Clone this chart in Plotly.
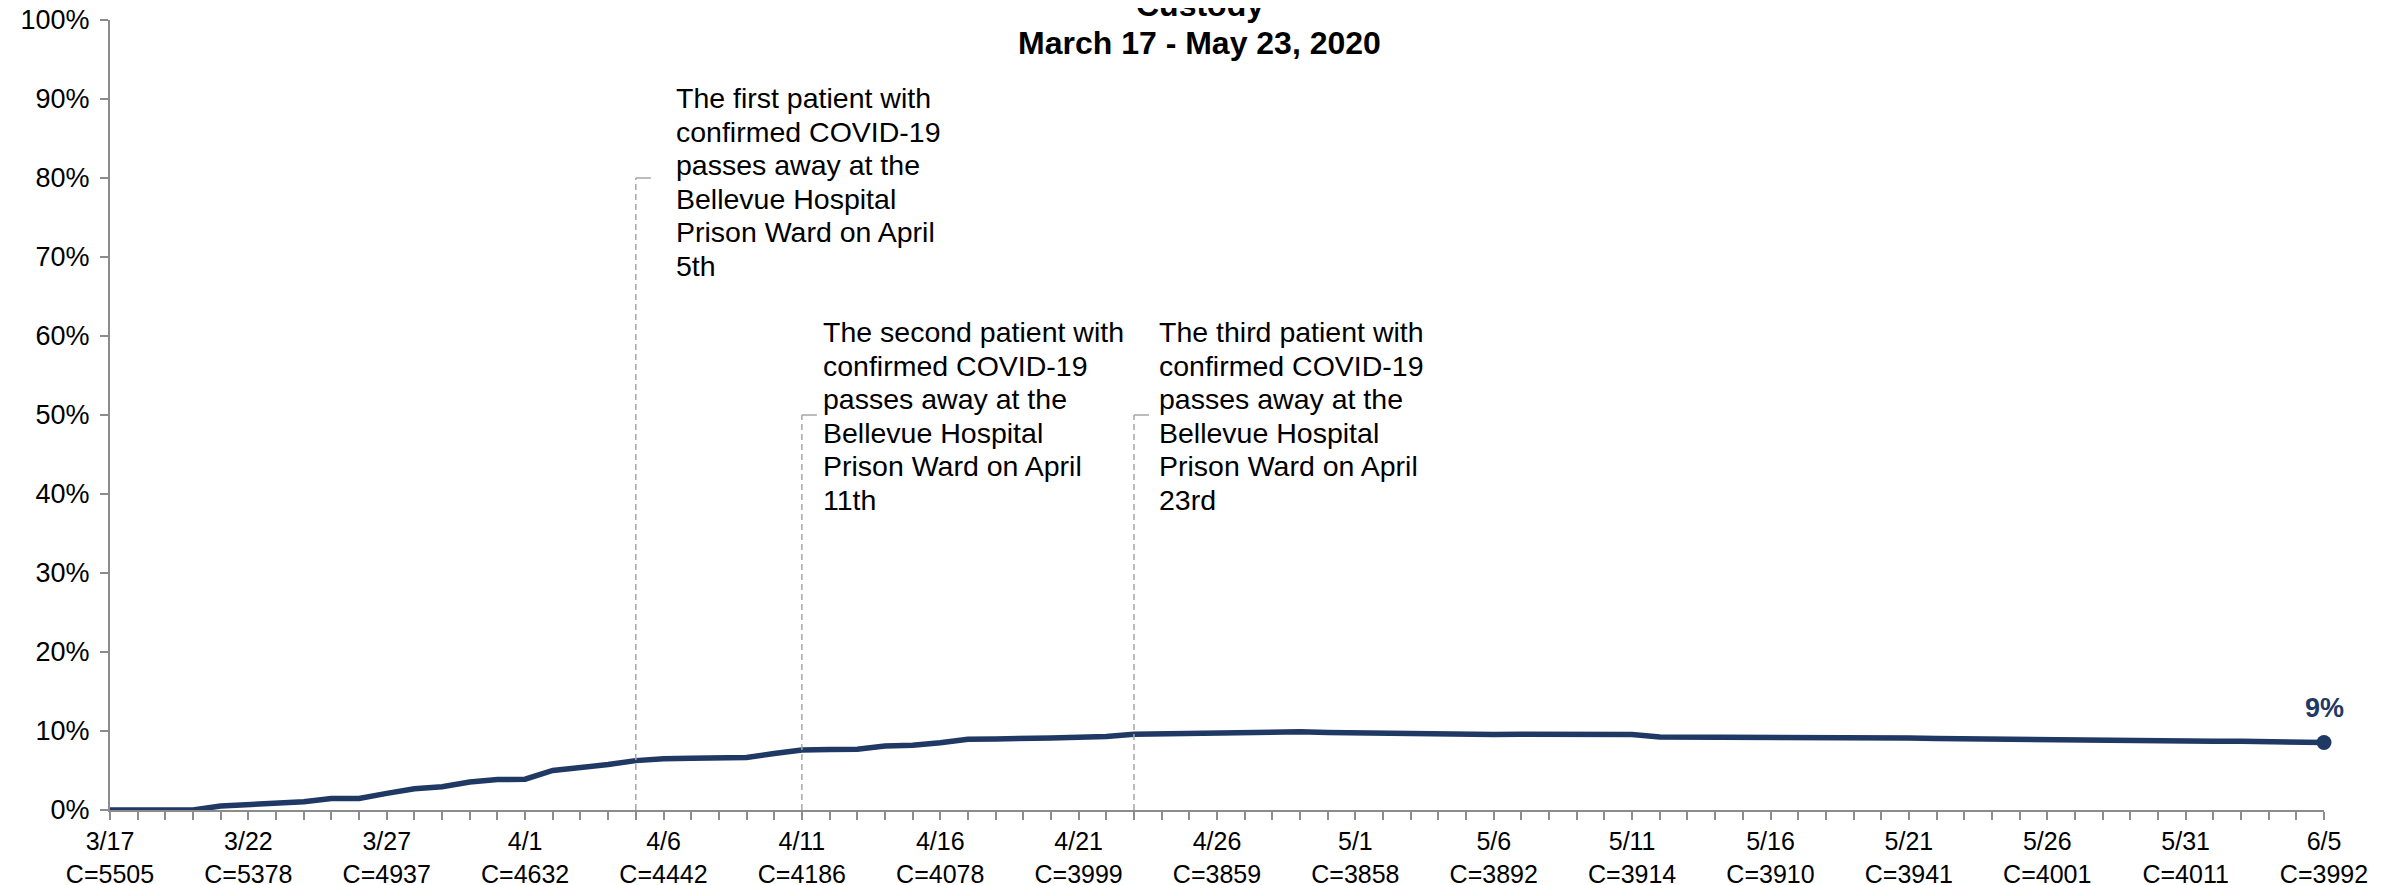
"""COVID-19 in custody: share of population over time, with event markers."""
import pandas as pd
import plotly.graph_objects as go

_NAVY = "#1f3864"
_AXIS = "#8c8c8c"
_GUIDE = "#a6a6a6"
_FONT = "Liberation Sans, Arial, sans-serif"

# ── data ──
dates = [f"{d.month}/{d.day}" for d in pd.date_range("2020-03-17", "2020-06-05")]

share = [
    0.0, 0.0, 0.0, 0.0, 0.005, 0.007, 0.0085, 0.0105, 0.0145, 0.0145,
    0.021, 0.027, 0.0295, 0.0355, 0.0385, 0.039, 0.050, 0.0535, 0.0575, 0.0625,
    0.065, 0.0655, 0.066, 0.0665, 0.0715, 0.076, 0.0765, 0.077, 0.081, 0.082,
    0.085, 0.0895, 0.090, 0.090, 0.091, 0.092, 0.093, 0.096, 0.0965, 0.0985,
    0.0985, 0.0988, 0.099, 0.099, 0.098, 0.0975, 0.096, 0.0955, 0.0955, 0.0955,
    0.0955, 0.096, 0.0955, 0.095, 0.095, 0.0955, 0.0925, 0.0925, 0.0915, 0.0915,
    0.0925, 0.0915, 0.0915, 0.0915, 0.0915, 0.091, 0.0905, 0.090, 0.0895, 0.089,
    0.0885, 0.088, 0.0875, 0.0875, 0.0875, 0.087, 0.087, 0.087, 0.087, 0.0865,
    0.0855,
]

label_dates = ["3/17", "3/22", "3/27", "4/1", "4/6", "4/11", "4/16", "4/21", "4/26",
               "5/1", "5/6", "5/11", "5/16", "5/21", "5/26", "5/31", "6/5"]
census = [5505, 5378, 4937, 4632, 4442, 4186, 4078, 3999, 3859,
          3858, 3892, 3914, 3910, 3941, 4001, 4011, 3992]

event_dates = ["4/5", "4/11", "4/23"]
event_heights = [0.8, 0.5, 0.5]
event_texts = [
    ["The first patient with", "confirmed COVID-19", "passes away at the",
     "Bellevue Hospital", "Prison Ward on April", "5th"],
    ["The second patient with", "confirmed COVID-19", "passes away at the",
     "Bellevue Hospital", "Prison Ward on April", "11th"],
    ["The third patient with", "confirmed COVID-19", "passes away at the",
     "Bellevue Hospital", "Prison Ward on April", "23rd"],
]

# text box placement (layout only)
event_text_top = [0.901, 0.605, 0.605]
event_text_shift = [38, 19, 23]
LINE_STEP = 33.5

census_by_date = dict(zip(label_dates, census))
tick_text = [f"{d}<br>C={census_by_date[d]}" if d in census_by_date else "" for d in dates]

fig = go.Figure()

fig.add_trace(
    go.Scatter(x=dates, y=share, mode="lines", line=dict(color=_NAVY, width=5.5),
               cliponaxis=False, showlegend=False, hoverinfo="skip")
)
fig.add_trace(
    go.Scatter(x=[dates[-1]], y=[share[-1]], mode="markers",
               marker=dict(color=_NAVY, size=15), cliponaxis=False, showlegend=False)
)

# ── event guide lines + texts ──
for date, h, lines, top, shift in zip(event_dates, event_heights, event_texts,
                                      event_text_top, event_text_shift):
    fig.add_shape(type="line", xref="x", yref="y", x0=date, x1=date, y0=0, y1=h,
                  line=dict(color=_GUIDE, width=1.5, dash="6px,4px"))
    fig.add_shape(type="line", xref="x", yref="y", xsizemode="pixel", xanchor=date,
                  x0=0, x1=15, y0=h, y1=h,
                  line=dict(color=_GUIDE, width=1.5))
    for k, txt in enumerate(lines):
        fig.add_annotation(x=date, y=top, xref="x", yref="y", text=txt,
                           showarrow=False, xanchor="left", yanchor="middle",
                           xshift=shift, yshift=-k * LINE_STEP,
                           font=dict(size=28.5, color="black", family=_FONT))

# end value label
fig.add_annotation(x=dates[-1], y=share[-1], text=f"<b>{share[-1]:.0%}</b>",
                   showarrow=False, yanchor="middle", yshift=34,
                   font=dict(size=27, color=_NAVY, family=_FONT))

# title (top line runs off the page)
fig.add_annotation(x=0.4923, y=1.019, xref="paper", yref="paper", text="<b>Custody</b>",
                   showarrow=False, yanchor="middle",
                   font=dict(size=32, color="black", family=_FONT))
fig.add_annotation(x=0.4923, y=0.9709, xref="paper", yref="paper",
                   text="<b>March 17 - May 23, 2020</b>",
                   showarrow=False, yanchor="middle",
                   font=dict(size=32, color="black", family=_FONT))

fig.update_xaxes(
    type="category", range=[0, len(dates) - 1],
    tickmode="array", tickvals=dates, ticktext=tick_text, tickangle=0,
    showline=True, linecolor=_AXIS, linewidth=2,
    ticks="outside", ticklen=8, tickwidth=1.5, tickcolor=_AXIS,
    ticklabelstandoff=0, ticklabeloverflow="allow",
    showgrid=False, zeroline=False,
    tickfont=dict(size=25, color="black", family=_FONT),
)
fig.update_yaxes(
    range=[0, 1], dtick=0.1, tickformat=".0%",
    showline=True, linecolor=_AXIS, linewidth=2,
    ticks="outside", ticklen=8, tickwidth=1.5, tickcolor=_AXIS,
    ticklabelstandoff=5, ticklabeloverflow="allow",
    showgrid=False, zeroline=False,
    tickfont=dict(size=27, color="black", family=_FONT),
)

# page body adds an 8px offset; size the figure so the plot area lands in place
fig.update_layout(
    width=2389, height=885,
    template="plotly_white",
    plot_bgcolor="white", paper_bgcolor="white",
    margin=dict(l=102, r=73, t=12, b=83, autoexpand=False),
    font=dict(family=_FONT),
)

fig.write_html("out.html")
